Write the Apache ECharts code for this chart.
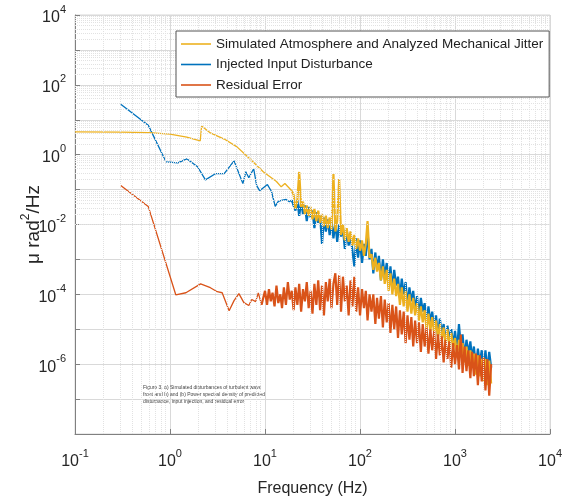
<!DOCTYPE html>
<html><head><meta charset="utf-8">
<script src="https://cdn.jsdelivr.net/npm/echarts@6/dist/echarts.min.js"></script>
<style>html,body{margin:0;padding:0;background:#fff}#c{width:565px;height:502px}</style>
</head><body><div id="c"></div>
<script>
const seriesNames = ['Simulated Atmosphere and Analyzed Mechanical Jitter', 'Injected Input Disturbance', 'Residual Error'];
const seriesColors = ['#EDB120', '#0072BD', '#D95319'];

// shared frequency grid (Hz) for the noisy part of the spectra
const gridFreq = [10,10.5,11,11.5,12,12.6,13.2,13.8,14.5,15.1,15.8,16.6,17.4,18.2,19.1,
20,20.9,21.9,22.9,24,25.1,26.3,27.5,28.8,30.2,31.6,33.1,34.7,36.3,38,39.8,41.7,43.7,45.7,47.9,50.1,52.5,55,57.5,60.3,63.1,66.1,69.2,72.4,75.9,79.4,83.2,87.1,91.2,95.5,
100,105,110,115,120,126,132,138,145,151,158,166,174,182,191,200,209,219,229,240,251,263,275,288,302,316,331,347,363,380,398,417,437,457,479,501,525,550,575,603,631,661,692,724,759,794,832,871,912,955,
1000,1050,1100,1150,1200,1260,1320,1380,1450,1510,1580,1660,1740,1820,1910,2000,2090,2190,2290,2400];

// Simulated Atmosphere and Analyzed Mechanical Jitter
const simLowFreq = [0.1,0.3,0.6,1.0,1.5,2.08,2.15,2.66,3.72,5.07,6.91,9.64,13.2,14.8,16.2,19.1];
const simLowVal  = [4.5,4.4,4.3,3.9,3.2,2.5,6.6,4.2,2.8,1.67,0.76,0.32,0.17,0.12,0.15,0.093];
const simNoiseVal = [7.1e-2,2.8e-2,5.0e-2,3.2e-1,3.2e-2,4.5e-2,2.0e-2,3.5e-2,1.78e-2,3.2e-2,
1.41e-2,2.8e-2,1.26e-2,2.5e-2,1.12e-2,2.0e-2,8.9e-3,1.78e-2,7.9e-3,1.58e-2,
7.1e-3,2.8e-1,6.3e-3,1.26e-2,2.0e-1,5.0e-3,1e-2,3.5e-3,7.9e-3,3.2e-3,
6.3e-3,2.5e-3,5.0e-3,2.0e-3,4.0e-3,1.78e-3,3.5e-3,1.26e-3,2.8e-3,1.26e-2,
1.12e-3,1.41e-3,5.0e-4,1.12e-3,4.5e-4,7.9e-4,2.5e-4,6.3e-4,2.0e-4,5.0e-4,
1.26e-4,4.0e-4,1e-4,2.8e-4,8.9e-5,2.0e-4,5.0e-5,1.58e-4,4.5e-5,1.26e-4,
3.2e-5,1e-4,2.8e-5,7.9e-5,2.5e-5,5.6e-5,1.78e-5,4.5e-5,1.58e-5,3.5e-5,
1e-5,2.8e-5,8.9e-6,2.24e-5,7.9e-6,1.78e-5,5.6e-6,1.41e-5,5.0e-6,1.12e-5,
3.5e-6,1e-5,3.2e-6,7.9e-6,2.8e-6,5.6e-6,1.78e-6,5.0e-6,1.58e-6,4.0e-6,
1.12e-6,3.2e-6,8.9e-7,2.5e-6,7.9e-7,2.0e-6,5.0e-7,1.78e-6,4.5e-7,1.41e-6,
3.2e-7,1.41e-6,2.5e-7,1.26e-6,2.8e-7];

// Injected Input Disturbance
const injLowFreq = [0.303,0.59,0.909,1.21,1.5,1.95,2.36,3.0,3.72,4.72,5.85,6.28,6.75,7.6,8.17,8.77,10.6,11.7,12.8,13.8,15.2,16.7,18,19.1];
const injLowVal  = [27.7,7.0,0.62,0.585,0.76,0.45,0.19,0.285,0.285,0.667,0.148,0.324,0.219,0.395,0.13,0.093,0.139,0.088,0.033,0.046,0.05,0.052,0.045,0.05];
const injNoiseVal = [5.6e-2,2.5e-2,5.0e-2,1.78e-2,4.5e-2,2.0e-2,3.5e-2,1.26e-2,3.2e-2,1.58e-2,
2.5e-2,7.9e-3,2.24e-2,1.12e-2,1.78e-2,2.8e-3,1.58e-2,6.3e-3,1.41e-2,5.0e-3,
1.26e-2,4.0e-3,1.12e-2,3.2e-3,1e-2,4.5e-3,7.9e-3,2.0e-3,7.1e-3,2.5e-3,
5.0e-3,1.78e-3,6.3e-4,4.0e-3,1.12e-3,3.5e-3,7.9e-4,2.8e-3,1.26e-3,6.3e-3,
1e-3,2.0e-3,4.0e-4,1.58e-3,5.0e-4,1.26e-3,2.5e-4,1e-3,3.2e-4,7.9e-4,
2.0e-4,6.3e-4,1.41e-4,5.0e-4,1.78e-4,3.2e-4,7.9e-5,2.8e-4,1e-4,2.24e-4,
4.5e-5,1.58e-4,6.3e-5,1.26e-4,3.5e-5,8.9e-5,2.5e-5,7.9e-5,3.2e-5,5.6e-5,
1.26e-5,4.5e-5,1.58e-5,3.2e-5,1.12e-5,2.5e-5,6.3e-6,2.0e-5,7.9e-6,1.41e-5,
4.0e-6,1.26e-5,5.0e-6,1e-5,3.5e-6,8.9e-6,2.5e-6,1.41e-5,3.2e-6,7.1e-6,
1.58e-6,5.0e-6,2.0e-6,4.5e-6,1.41e-6,3.2e-6,7.9e-7,2.8e-6,1e-6,2.5e-6,
7.1e-7,2.5e-6,6.3e-7,2.24e-6,7.9e-7];

// Residual Error
const resLowFreq = [0.303,0.59,1.15,1.47,2.1,2.66,3.14,3.54,4.19,4.72,5.31,5.99,6.75,7.25,7.97,8.5,9.2];
const resLowVal  = [0.13,0.033,9.7e-5,1.11e-4,2.0e-4,1.55e-4,1.19e-4,1.11e-4,3.4e-5,6.6e-5,1.05e-4,5.8e-5,4.8e-5,7.1e-5,6.2e-5,1.1e-4,5e-5];
const resNoiseVal = [1.26e-4,5.0e-5,1.41e-4,6.3e-5,1.12e-4,4.5e-5,1.78e-4,5.6e-5,1e-4,4.0e-5,
1.58e-4,5.0e-5,2.24e-4,7.1e-5,1.26e-4,3.5e-5,1.58e-4,5.0e-5,2.0e-4,3.2e-5,
1.41e-4,6.3e-5,2.24e-4,4.0e-5,1.26e-4,2.8e-5,2.0e-4,5.0e-5,2.5e-4,3.5e-5,
1.78e-4,2.5e-5,2.24e-4,6.3e-5,2.8e-4,4.0e-5,2.0e-4,4.0e-4,5.0e-5,3.5e-4,
3.2e-5,3.2e-4,6.3e-5,1.78e-4,2.5e-5,2.5e-4,4.5e-5,3.2e-4,3.2e-5,1.58e-4,
2.5e-5,1.41e-4,4.0e-5,1.26e-4,1.78e-5,1e-4,3.2e-5,1e-4,1.41e-5,7.9e-5,
2.0e-5,8.9e-5,1.12e-5,7.1e-5,1.58e-5,5.6e-5,7.9e-6,5.0e-5,1e-5,4.5e-5,
5.6e-6,3.5e-5,7.1e-6,3.2e-5,4.0e-6,2.5e-5,5.0e-6,2.24e-5,3.2e-6,1.78e-5,
4.0e-6,1.58e-5,2.24e-6,1.41e-5,3.2e-6,1.12e-5,2.0e-6,1e-5,2.5e-6,8.9e-6,
1.41e-6,7.1e-6,1.78e-6,6.3e-6,1.12e-6,5.0e-6,1.41e-6,4.5e-6,7.9e-7,4.0e-6,
1e-6,3.5e-6,7.1e-7,7.1e-6,5.6e-7,3.2e-6,6.3e-7,2.5e-6,4.0e-7,2.24e-6,
4.5e-7,2.0e-6,2.5e-7,1.78e-6,3.2e-7,1.58e-6,1.78e-7,1.41e-6,1.26e-7,1e-6];

// tick labels (exponents of 10)
const xLabelExp = [-1,0,1,2,3,4];
const yLabelExp = [4,2,0,-2,-4,-6];
const xDecades = [-1,0,1,2,3];
const yDecades = [-8,-7,-6,-5,-4,-3,-2,-1,0,1,2,3];
const minorMult = [2,3,4,5,6,7,8,9];

const captionLines = [
  'Figure 3. a) Simulated disturbances of turbulent wave',
  'front and b) and (b) Power spectral density of predicted',
  'disturbance, input injection, and residual error'
];

function pairs(f, v) { return f.map((x, i) => [x, v[i]]); }
const noiseFreqFrom20 = gridFreq.slice(15);
const simLow = pairs(simLowFreq, simLowVal), injLow = pairs(injLowFreq, injLowVal), resLow = pairs(resLowFreq, resLowVal);
const simNoise = [simLow[simLow.length - 1]].concat(pairs(noiseFreqFrom20, simNoiseVal));
const injNoise = [injLow[injLow.length - 1]].concat(pairs(noiseFreqFrom20, injNoiseVal));
const resNoise = [resLow[resLow.length - 1]].concat(pairs(gridFreq, resNoiseVal));

const FONT = 'Liberation Sans, Arial, Helvetica, sans-serif';
const TXT = '#262626';
function expLabel(allowed) {
  return function (v) {
    const e = Math.round(Math.log10(v));
    if (allowed.indexOf(e) < 0) return '';
    return '{b|10}{s|' + (e < 0 ? '-' + (-e) : String(e)) + '}';
  };
}
const labelRich = {
  b: { fontSize: 16, color: TXT, fontFamily: FONT, lineHeight: 22, verticalAlign: 'bottom' },
  s: { fontSize: 11, color: TXT, fontFamily: FONT, lineHeight: 12, verticalAlign: 'top' }
};

const minorLines = [];
xDecades.forEach(d => minorMult.forEach(m => minorLines.push({ xAxis: m * Math.pow(10, d) })));
yDecades.forEach(d => minorMult.forEach(m => minorLines.push({ yAxis: m * Math.pow(10, d) })));

function lineSeries(name, data, color, width, z) {
  return { type: 'line', name: name, data: data, color: color, symbol: 'none', showSymbol: false,
    lineStyle: { width: width, color: color }, z: z, silent: true };
}

const chart = echarts.init(document.getElementById('c'), null, { renderer: 'canvas' });
chart.setOption({
  animation: false,
  backgroundColor: '#fff',
  grid: { left: 75, right: 7, top: 15, bottom: 65, show: true, borderColor: '#d6d6d6', borderWidth: 1 },
  legend: {
    data: seriesNames, z: 20, zlevel: 1,
    orient: 'vertical', left: 176, top: 31,
    icon: 'rect', itemWidth: 30, itemHeight: 1.6, itemGap: 6.5,
    padding: [6, 6, 5, 5],
    borderColor: '#555', borderWidth: 1, backgroundColor: '#fff',
    textStyle: { fontSize: 13.5, color: '#222', fontFamily: FONT, lineHeight: 14 }
  },
  xAxis: {
    type: 'log', logBase: 10, min: 0.1, max: 10000, interval: 1,
    axisLine: { show: true, lineStyle: { color: '#808080' } },
    axisTick: { show: true, inside: true, length: 5, lineStyle: { color: '#808080' } },
    splitLine: { show: true, lineStyle: { color: '#d9d9d9', width: 1 } },
    axisLabel: { margin: 14, formatter: expLabel(xLabelExp), rich: labelRich },
    name: 'Frequency (Hz)', nameLocation: 'middle', nameGap: 47, nameMoveOverlap: false,
    nameTextStyle: { fontSize: 16, color: TXT, fontFamily: FONT }
  },
  yAxis: {
    type: 'log', logBase: 10, min: 1e-8, max: 1e4, interval: 1,
    axisLine: { show: true, lineStyle: { color: '#808080' } },
    axisTick: { show: true, inside: true, length: 5, lineStyle: { color: '#808080' } },
    splitLine: { show: true, lineStyle: { color: '#d9d9d9', width: 1 } },
    axisLabel: { margin: 9, formatter: expLabel(yLabelExp), rich: labelRich },
    name: '{n|\u03bc rad}{s|2}{n|/Hz}', nameLocation: 'middle', nameGap: 32, nameMoveOverlap: false,
    nameTextStyle: {
      rich: {
        n: { fontSize: 19, color: TXT, fontFamily: FONT, lineHeight: 23, verticalAlign: 'bottom' },
        s: { fontSize: 12, color: TXT, fontFamily: FONT, lineHeight: 12, verticalAlign: 'top' }
      }
    }
  },
  series: [
    {
      type: 'line', name: 'minorGrid', data: [], silent: true, z: 1, symbol: 'none',
      markLine: {
        silent: true, symbol: ['none', 'none'], label: { show: false }, animation: false,
        lineStyle: { color: '#e2e2e2', type: 'dotted', width: 1 },
        data: minorLines
      }
    },
    lineSeries(seriesNames[0], simLow, seriesColors[0], 1.3, 3),
    lineSeries(seriesNames[1], injLow, seriesColors[1], 1.3, 2),
    lineSeries(seriesNames[2], resLow, seriesColors[2], 1.3, 4),
    lineSeries(seriesNames[1], injNoise, seriesColors[1], 2.2, 2),
    lineSeries(seriesNames[0], simNoise, seriesColors[0], 2.2, 3),
    lineSeries(seriesNames[2], resNoise, seriesColors[2], 2.2, 4)
  ],
  graphic: captionLines.map((t, i) => ({
    type: 'text', left: 143, top: 385 + i * 7, silent: true, z: 5,
    style: { text: t, fontSize: 5, fill: '#444', fontFamily: FONT }
  }))
});
</script>
</body></html>
